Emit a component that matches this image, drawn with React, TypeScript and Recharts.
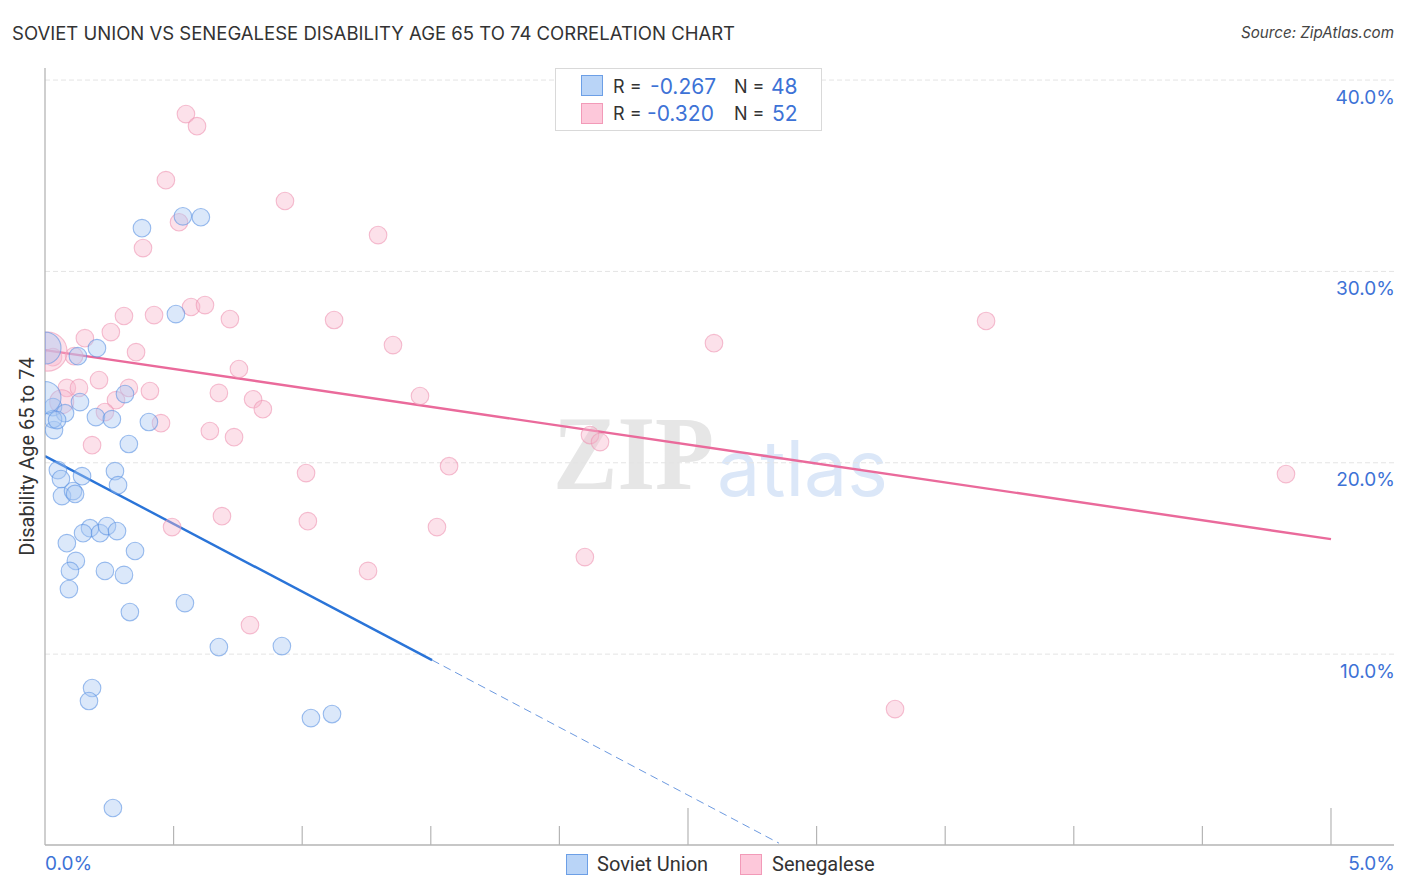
import {
  ComposedChart,
  Scatter,
  Line,
  XAxis,
  YAxis,
  CartesianGrid,
} from "recharts";

const sovietPoints = [
  [0.377, 32.26], [0.536, 32.88], [0.606, 32.83], [0.509, 27.77], [0.202, 25.99], [0.128, 25.57],
  [0.311, 23.59], [0.031, 22.91], [0.136, 23.17], [0.078, 22.59], [0.198, 22.39], [0.26, 22.28],
  [0.404, 22.13], [0.035, 21.71], [0.031, 22.28], [0.047, 22.23], [0.326, 20.98], [0.05, 19.62],
  [0.062, 19.15], [0.144, 19.3], [0.272, 19.56], [0.284, 18.83], [0.066, 18.26], [0.109, 18.52],
  [0.117, 18.37], [0.175, 16.58], [0.148, 16.32], [0.214, 16.32], [0.241, 16.69], [0.28, 16.43],
  [0.085, 15.8], [0.35, 15.39], [0.12, 14.87], [0.097, 14.35], [0.233, 14.35], [0.307, 14.14],
  [0.093, 13.4], [0.33, 12.2], [0.544, 12.67], [0.676, 10.37], [0.921, 10.42], [0.183, 8.23],
  [0.171, 7.55], [1.034, 6.66], [1.116, 6.87], [0.264, 1.96],
];
const sovietLarge = [[0.0, 26.0], [0.0, 23.41]];

const senegalesePoints = [
  [0.548, 38.22], [0.591, 37.59], [0.47, 34.77], [0.521, 32.57], [0.381, 31.22], [0.933, 33.68],
  [1.295, 31.9], [0.568, 28.14], [0.622, 28.24], [0.424, 27.72], [0.307, 27.67], [0.719, 27.51],
  [0.256, 26.83], [0.155, 26.51], [1.124, 27.46], [0.354, 25.78], [1.353, 26.15], [2.601, 26.25],
  [3.659, 27.41], [0.113, 25.57], [0.031, 25.52], [0.21, 24.32], [0.085, 23.91], [0.132, 23.91],
  [0.326, 23.91], [0.408, 23.75], [0.276, 23.27], [0.233, 22.65], [0.451, 22.07],
  [0.183, 20.92], [0.676, 23.65], [0.754, 24.9], [0.809, 23.32], [0.847, 22.8], [0.735, 21.34],
  [1.458, 23.49], [0.641, 21.66], [1.015, 19.46], [1.571, 19.82], [0.494, 16.64], [0.688, 17.21],
  [1.022, 16.95], [1.524, 16.64], [2.099, 15.07], [1.256, 14.35], [0.797, 11.52], [3.305, 7.13],
  [4.825, 19.41], [2.119, 21.45], [2.158, 21.08],
];
const senegaleseMedium = [[0.065, 23.19]];
const senegaleseLarge = [[0.01, 25.81]];

const sovietTrend = [[0, 20.35], [1.505, 9.69]];
const sovietTrendDashed = [[1.505, 9.69], [2.854, 0.12]];
const senegaleseTrend = [[0, 25.89], [5, 16.01]];

const xTicks = [0, 0.5, 1, 1.5, 2, 2.5, 3, 3.5, 4, 4.5, 5];
const yTicks = [10, 20, 30, 40];

const toRows = (pts: number[][]) => pts.map(([x, y]) => ({ x, y }));

const BLUE_TEXT = "#3d72d6";
const TICK_FONT = "Inter, sans-serif";
const PLOT_LEFT = 45;

const XTick = ({ x, y, payload }: any) => {
  const v = payload.value;
  const major = v === 0 || v === 2.5 || v === 5;
  return (
    <g>
      {v !== 0 && <line x1={x} x2={x} y1={y} y2={y - (major ? 37 : 19)} stroke="#b5b5b5" strokeWidth={1.2} />}
      {v === 0 && (
        <text x={x} y={y + 25} fill={BLUE_TEXT} fontSize={19} fontFamily={TICK_FONT}>0.0%</text>
      )}
      {v === 5 && (
        <text x={1395} y={y + 25} textAnchor="end" fill={BLUE_TEXT} fontSize={19} fontFamily={TICK_FONT}>5.0%</text>
      )}
    </g>
  );
};

const YTick = ({ y, payload }: any) => (
  <text x={1395} y={y + 23.5} textAnchor="end" fill={BLUE_TEXT} fontSize={19} fontFamily={TICK_FONT}>
    {payload.value.toFixed(1)}%
  </text>
);

// bubbles that cross the left axis get cut off at it
const bubble = (r: number, fill: string, stroke: string) => ({ cx, cy }: any) => {
  const style = { fill, fillOpacity: 0.42, stroke, strokeOpacity: 0.6, strokeWidth: 1.1 };
  if (cx - r >= PLOT_LEFT) return <circle cx={cx} cy={cy} r={r} {...style} />;
  const dy = Math.sqrt(r * r - (PLOT_LEFT - cx) * (PLOT_LEFT - cx));
  const large = cx > PLOT_LEFT ? 1 : 0;
  return <path d={`M${PLOT_LEFT},${cy - dy} A${r},${r} 0 ${large} 1 ${PLOT_LEFT},${cy + dy} Z`} {...style} />;
};

const blueFill = "#a9c9f4";
const blueStroke = "#5c92e3";
const pinkFill = "#f8b8cc";
const pinkStroke = "#ee94b2";

const swatch = (left: number, top: number, fill: string, stroke: string) => (
  <div style={{ position: "absolute", left, top, width: 20, height: 19, background: fill, border: `1.5px solid ${stroke}` }} />
);

const label = (left: number, top: number, text: string, color: string, size: number, font: string) => (
  <div style={{ position: "absolute", left, top, color, fontSize: size, fontFamily: font, lineHeight: "26px", whiteSpace: "nowrap" }}>
    {text}
  </div>
);

export default function App() {
  return (
    <div style={{ position: "absolute", left: 0, top: 0, width: 1406, height: 892, background: "#fff", overflow: "hidden" }}>
      {label(12, 20, "SOVIET UNION VS SENEGALESE DISABILITY AGE 65 TO 74 CORRELATION CHART", "#333", 18.53, TICK_FONT)}
      <div style={{ position: "absolute", right: 12, top: 20, color: "#444", fontSize: 15.2, fontStyle: "italic", fontFamily: TICK_FONT, lineHeight: "26px" }}>
        Source: ZipAtlas.com
      </div>
      <div style={{ position: "absolute", left: 553, top: 394, color: "#e6e6e6", fontSize: 105, fontWeight: 700, fontFamily: "'Liberation Serif', serif", lineHeight: "120px", transform: "scaleX(0.92)", transformOrigin: "left top" }}>ZIP</div>
      <div style={{ position: "absolute", left: 717, top: 418, color: "#dbe7f8", fontSize: 77, fontFamily: TICK_FONT, lineHeight: "100px" }}>atlas</div>

      <div style={{ position: "absolute", left: 0, top: 0 }}>
        <ComposedChart width={1406} height={892} margin={{ top: 68, right: 12, bottom: 0, left: 0 }} style={{ fontFamily: TICK_FONT }}>
          <CartesianGrid vertical={false} horizontalValues={yTicks} stroke="#e4e4e4" strokeDasharray="5 3" />
          <XAxis
            type="number"
            dataKey="x"
            domain={[0, 5.245]}
            ticks={xTicks}
            interval={0}
            allowDataOverflow
            height={47}
            tickLine={false}
            tickSize={0}
            tickMargin={0}
            tick={XTick}
            axisLine={{ stroke: "#b5b5b5", strokeWidth: 1.3 }}
          />
          <YAxis
            type="number"
            dataKey="y"
            domain={[0.026, 40.63]}
            ticks={yTicks}
            interval={0}
            allowDataOverflow
            width={45}
            tickLine={false}
            tick={YTick}
            axisLine={{ stroke: "#b5b5b5", strokeWidth: 1.3 }}
            label={{
              value: "Disability Age 65 to 74",
              angle: -90,
              position: "left",
              offset: -27,
              textAnchor: "middle",
              style: { fontSize: 20, fill: "#333", fontFamily: "Roboto, sans-serif" },
            }}
          />
          <Scatter data={toRows(senegalesePoints)} shape={bubble(8.8, pinkFill, pinkStroke)} isAnimationActive={false} />
          <Scatter data={toRows(senegaleseMedium)} shape={bubble(12, pinkFill, pinkStroke)} isAnimationActive={false} />
          <Scatter data={toRows(senegaleseLarge)} shape={bubble(19.5, pinkFill, pinkStroke)} isAnimationActive={false} />
          <Scatter data={toRows(sovietPoints)} shape={bubble(8.8, blueFill, blueStroke)} isAnimationActive={false} />
          <Scatter data={toRows(sovietLarge)} shape={bubble(16, blueFill, blueStroke)} isAnimationActive={false} />
          <Line data={toRows(senegaleseTrend)} dataKey="y" type="linear" dot={false} activeDot={false} stroke="#ea6a9b" strokeWidth={2.4} isAnimationActive={false} />
          <Line data={toRows(sovietTrend)} dataKey="y" type="linear" dot={false} activeDot={false} stroke="#2a74d8" strokeWidth={2.4} isAnimationActive={false} />
          <Line data={toRows(sovietTrendDashed)} dataKey="y" type="linear" dot={false} activeDot={false} stroke="#6d9ae0" strokeWidth={1} strokeDasharray="8 5" isAnimationActive={false} />
        </ComposedChart>
      </div>

      <div style={{ position: "absolute", left: 555, top: 68, width: 265, height: 61, background: "#fff", border: "1px solid #d9d9d9" }} />
      {swatch(581, 75, "#b9d4f7", "#6c9fe6")}
      {swatch(581, 103, "#fdc8da", "#f29ab8")}
      {label(613, 74, "R =", "#333", 18, TICK_FONT)}
      {label(650, 74, "-0.267", BLUE_TEXT, 21, TICK_FONT)}
      {label(734, 74, "N =", "#333", 18, TICK_FONT)}
      {label(771, 74, "48", BLUE_TEXT, 21, TICK_FONT)}
      {label(613, 101, "R =", "#333", 18, TICK_FONT)}
      {label(647, 101, "-0.320", BLUE_TEXT, 21, TICK_FONT)}
      {label(734, 101, "N =", "#333", 18, TICK_FONT)}
      {label(772, 101, "52", BLUE_TEXT, 21, TICK_FONT)}

      {swatch(566, 854, "#b9d4f7", "#6c9fe6")}
      {label(597, 851, "Soviet Union", "#333", 20, "Roboto, sans-serif")}
      {swatch(740, 854, "#fdc8da", "#f29ab8")}
      {label(772, 851, "Senegalese", "#333", 20, "Roboto, sans-serif")}
    </div>
  );
}
